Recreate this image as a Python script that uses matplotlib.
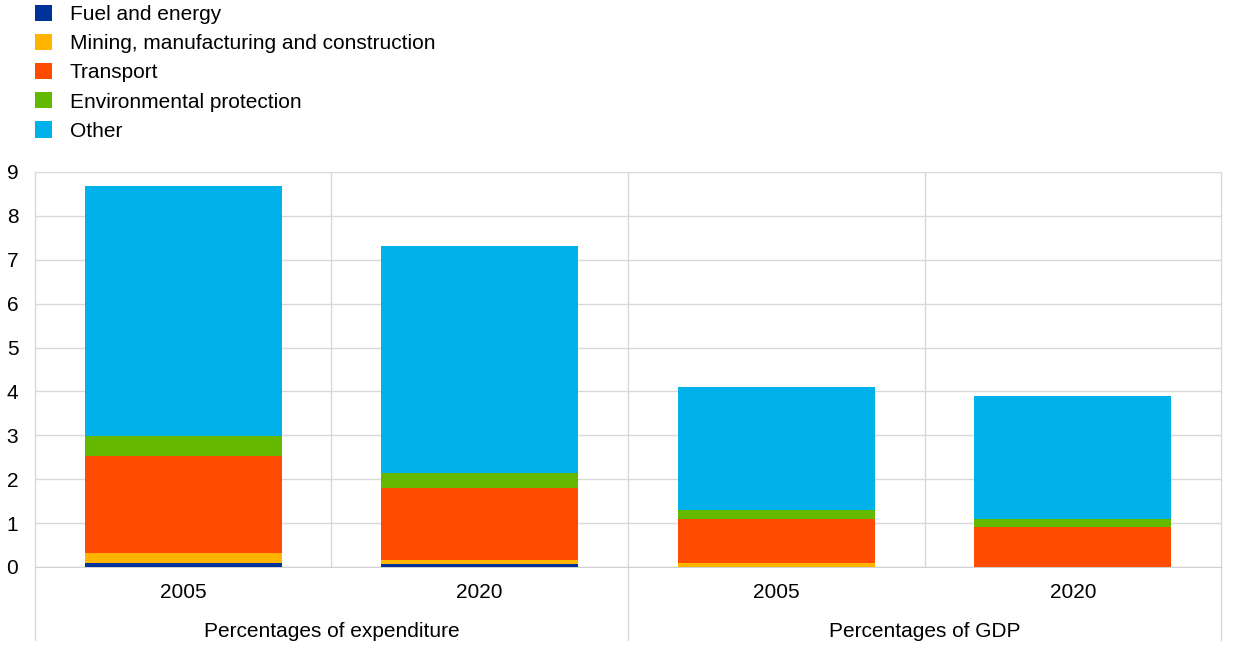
import matplotlib
matplotlib.use('Agg')
import matplotlib.pyplot as plt
from matplotlib.patches import Patch
import numpy as np

plt.rcParams['font.family'] = ['Liberation Sans', 'DejaVu Sans']

# data
groups = ['Percentages of expenditure', 'Percentages of GDP']
years = ['2005', '2020', '2005', '2020']
series = ['Fuel and energy', 'Mining, manufacturing and construction',
          'Transport', 'Environmental protection', 'Other']
fuel = [0.09, 0.07, 0.01, 0.0]
mining = [0.24, 0.09, 0.09, 0.01]
transport = [2.21, 1.65, 0.99, 0.89]
environment = [0.44, 0.33, 0.20, 0.19]
other = [5.70, 5.17, 2.81, 2.80]
colors = ['#003299', '#FFB400', '#FF4B00', '#65B800', '#00B1EA']

fig = plt.figure(figsize=(12.4, 6.48), dpi=100)
ax = fig.add_axes([0.0282, 0.125, 0.9565, 0.6096])

x = np.arange(len(years))
bottom = np.zeros(len(years))
for vals, col in zip([fuel, mining, transport, environment, other], colors):
    ax.bar(x, vals, 0.665, bottom=bottom, color=col, zorder=3)
    bottom += np.array(vals)

ax.set_xlim(-0.5, 3.5)
ax.set_ylim(0, 9)
ax.set_yticks(range(0, 10))
ax.yaxis.grid(True, color='#d9d9d9', lw=1, zorder=0)
for xv in [0.5, 1.5, 2.5]:
    ax.axvline(xv, color='#d9d9d9', lw=1, zorder=0)
for s in ['top', 'right', 'left']:
    ax.spines[s].set_visible(False)
ax.spines['bottom'].set_color('#d0d0d0')
ax.tick_params(axis='y', length=0, pad=12, labelsize=15)
ax.tick_params(axis='x', length=0, pad=0, labelsize=15)
ax.set_xticks(x)
ax.set_xticklabels([])

tr = ax.get_xaxis_transform()
for xi, lab in zip(x, years):
    ax.text(xi, -0.065, lab, transform=tr, ha='center', va='center', fontsize=15)
for gi, lab in enumerate(groups):
    ax.text(0.5 + 2 * gi, -0.163, lab, transform=tr, ha='center', va='center', fontsize=15)
for xv in [-0.5, 1.5, 3.5]:
    ax.plot([xv, xv], [1.0 if xv != 1.5 else 0, -0.185], transform=tr,
            color='#d9d9d9', lw=1, clip_on=False, zorder=1)

handles = [Patch(facecolor=c, edgecolor='none') for c in colors]
fig.legend(handles, series, loc='upper left', bbox_to_anchor=(0.0282, 0.993),
           frameon=False, fontsize=15, handlelength=0.82, handleheight=0.82,
           handletextpad=0.85, labelspacing=0.475, borderpad=0, borderaxespad=0)

fig.savefig('out.png', dpi=100)
